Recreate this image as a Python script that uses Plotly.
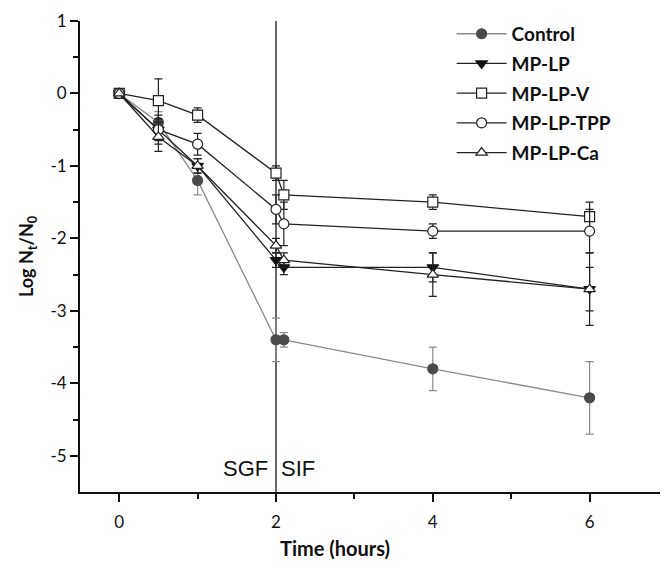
import plotly.graph_objects as go

# ---- data ----
time = [0, 0.5, 1, 2, 2.1, 4, 6]

series_names = ["Control", "MP-LP", "MP-LP-V", "MP-LP-TPP", "MP-LP-Ca"]

control = [0, -0.4, -1.2, -3.4, -3.4, -3.8, -4.2]
control_err = [0, 0.15, 0.2, 0.3, 0.1, 0.3, 0.5]

mp_lp = [0, -0.5, -1.0, -2.3, -2.4, -2.4, -2.7]
mp_lp_err = [0, 0.15, 0.1, 0.1, 0.1, 0.2, 0.5]

mp_lp_v = [0, -0.1, -0.3, -1.1, -1.4, -1.5, -1.7]
mp_lp_v_err = [0, 0.3, 0.1, 0.1, 0.2, 0.1, 0.2]

mp_lp_tpp = [0, -0.5, -0.7, -1.6, -1.8, -1.9, -1.9]
mp_lp_tpp_err = [0, 0.2, 0.15, 0.2, 0.3, 0.1, 0.3]

mp_lp_ca = [0, -0.6, -1.0, -2.1, -2.3, -2.5, -2.7]
mp_lp_ca_err = [0, 0.2, 0.1, 0.1, 0.1, 0.3, 0.3]

x_ticks = [0, 2, 4, 6]
x_labels = ["0", "2", "4", "6"]
y_ticks = [1, 0, -1, -2, -3, -4, -5]
y_labels = ["1", "0", "-1", "-2", "-3", "-4", "-5"]

values = [control, mp_lp, mp_lp_v, mp_lp_tpp, mp_lp_ca]
errors = [control_err, mp_lp_err, mp_lp_v_err, mp_lp_tpp_err, mp_lp_ca_err]

styles = [
    dict(symbol="circle", fill="#4a4a4a", mline="#4a4a4a", line="#8a8a8a"),
    dict(symbol="triangle-down", fill="#111111", mline="#111111", line="#222222"),
    dict(symbol="square", fill="white", mline="#222222", line="#222222"),
    dict(symbol="circle", fill="white", mline="#222222", line="#222222"),
    dict(symbol="triangle-up", fill="white", mline="#222222", line="#222222"),
]

FONT = "Lato"

fig = go.Figure()
for i, (name, v, e, st) in enumerate(zip(series_names, values, errors, styles)):
    fig.add_trace(go.Scatter(
        x=time, y=v, name=name, mode="lines+markers",
        legendgroup=name,
        line=dict(color=st["line"], width=1.3),
        marker=dict(symbol=st["symbol"], size=10, color=st["fill"],
                    line=dict(color=st["mline"], width=1.2)),
        error_y=dict(type="data", array=e, visible=True, color=st["line"],
                     thickness=1.2, width=4),
    ))

# vertical separator at t = 2 h
fig.add_shape(type="line", x0=2, x1=2, y0=-5.5, y1=1, xref="x", yref="y",
              line=dict(color="#333333", width=1.5), layer="below")

fig.add_annotation(x=2, y=-5.17, text="SGF", showarrow=False, xanchor="right", xshift=-6,
                   font=dict(family="Liberation Sans", size=22, color="#111111"))
fig.add_annotation(x=2, y=-5.17, text="SIF", showarrow=False, xanchor="left", xshift=3,
                   font=dict(family="Liberation Sans", size=22, color="#111111"))

# x-axis title (placed as in the reference, left of the plot centre)
fig.add_annotation(x=0.434, y=0, xref="paper", yref="paper", yshift=-56,
                   text="<b>Time (hours)</b>", showarrow=False,
                   xanchor="center", yanchor="middle",
                   font=dict(family=FONT, size=20, color="#111111"))

fig.update_layout(
    width=660, height=564,
    margin=dict(l=72, r=0, t=13, b=80),
    paper_bgcolor="white", plot_bgcolor="white",
    font=dict(family=FONT, size=17, color="#111111"),
    showlegend=True,
    legend=dict(x=0.632, y=1.013, xanchor="left", yanchor="top",
                bgcolor="rgba(0,0,0,0)", tracegroupgap=2,
                font=dict(family=FONT, size=19, color="#111111", weight="bold"),
                itemwidth=50),
    xaxis=dict(range=[-0.5, 7.0], tickvals=x_ticks, ticktext=x_labels,
               ticks="outside", ticklen=8, ticklabelstandoff=6,
               tickwidth=2, tickcolor="#111111", automargin=False,
               showline=True, linecolor="#111111", linewidth=2, showgrid=False,
               zeroline=False,
               minor=dict(tickvals=[1, 3, 5], ticks="outside", ticklen=5, tickwidth=1.5,
                          tickcolor="#111111"),
               tickfont=dict(family=FONT, size=17)),
    yaxis=dict(range=[-5.5, 1.0], tickvals=y_ticks, ticktext=y_labels,
               ticks="outside", ticklen=8,
               tickwidth=2, tickcolor="#111111", automargin=False,
               showline=True, linecolor="#111111", linewidth=2, showgrid=False,
               zeroline=False,
               minor=dict(tickvals=[0.5, -0.5, -1.5, -2.5, -3.5, -4.5], ticks="outside",
                          ticklen=5, tickwidth=1.5, tickcolor="#111111"),
               title=dict(text="<b>Log N<sub>t</sub>/N<sub>0</sub></b>", standoff=12,
                          font=dict(family=FONT, size=18)),
               tickfont=dict(family=FONT, size=17)),
)

fig.write_html("out.html")
